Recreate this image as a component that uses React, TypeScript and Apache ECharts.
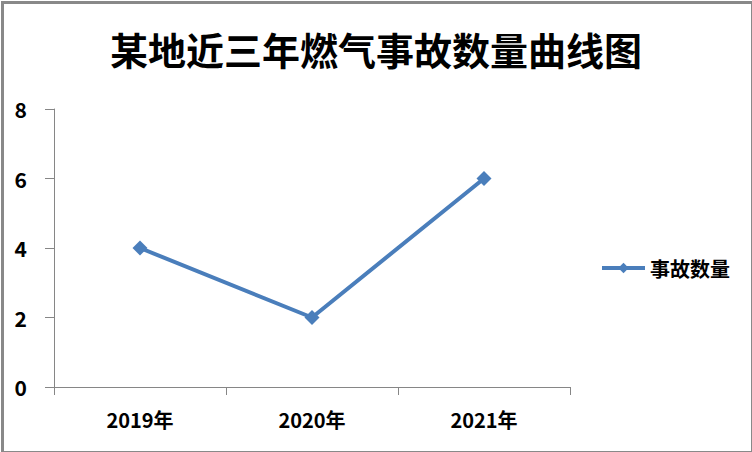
import React, { useEffect, useRef } from "react";
import * as echarts from "echarts";

const categories = ["2019年", "2020年", "2021年"];
const accidentCounts = [4, 2, 6];
const seriesName = "事故数量";
const titleText = "某地近三年燃气事故数量曲线图";

const FONT = "'Noto Sans CJK SC', 'Microsoft YaHei', sans-serif";
const LINE_BLUE = "#4A7EBB";
const AXIS_GREY = "#868686";

export default function App() {
  const ref = useRef<HTMLDivElement>(null);

  useEffect(() => {
    if (!ref.current) return;
    const chart = echarts.init(ref.current, undefined, { renderer: "svg" });
    chart.setOption({
      animation: false,
      backgroundColor: "#ffffff",
      title: {
        text: titleText,
        left: "center",
        top: 24,
        textStyle: {
          fontFamily: FONT,
          fontWeight: "bold",
          fontSize: 38,
          color: "#000000",
        },
      },
      legend: {
        data: [seriesName],
        left: 595,
        top: 253,
        orient: "vertical",
        itemWidth: 43,
        itemHeight: 13,
        lineStyle: { width: 4 },
        textStyle: {
          fontFamily: FONT,
          fontWeight: "bold",
          fontSize: 20,
          color: "#000000",
        },
      },
      grid: {
        left: 54,
        right: 182,
        top: 109,
        bottom: 65,
      },
      xAxis: {
        type: "category",
        data: categories,
        boundaryGap: true,
        axisLine: { lineStyle: { color: AXIS_GREY, width: 1 } },
        axisTick: { show: true, length: 8, alignWithLabel: false, lineStyle: { color: AXIS_GREY } },
        axisLabel: {
          margin: 22,
          fontFamily: FONT,
          fontWeight: "bold",
          fontSize: 20,
          color: "#000000",
        },
        splitLine: { show: false },
      },
      yAxis: {
        type: "value",
        min: 0,
        max: 8,
        interval: 2,
        axisLine: { show: true, lineStyle: { color: AXIS_GREY, width: 1 } },
        axisTick: { show: true, length: 9, lineStyle: { color: AXIS_GREY } },
        axisLabel: {
          margin: 27,
          fontFamily: FONT,
          fontWeight: "bold",
          fontSize: 21,
          color: "#000000",
        },
        splitLine: { show: false },
      },
      series: [
        {
          name: seriesName,
          type: "line",
          data: accidentCounts,
          symbol: "diamond",
          symbolSize: 15,
          color: LINE_BLUE,
          lineStyle: { color: LINE_BLUE, width: 4 },
          itemStyle: { color: LINE_BLUE },
        },
      ],
      graphic: [
        {
          type: "rect",
          left: 0,
          top: 0,
          shape: { x: 1, y: 1, width: 750, height: 450 },
          style: { fill: "none", stroke: "#898989", lineWidth: 3 },
          silent: true,
        },
      ],
    });
    return () => chart.dispose();
  }, []);

  return (
    <div
      ref={ref}
      style={{ position: "fixed", left: 0, top: 0, width: 752, height: 452 }}
    />
  );
}
